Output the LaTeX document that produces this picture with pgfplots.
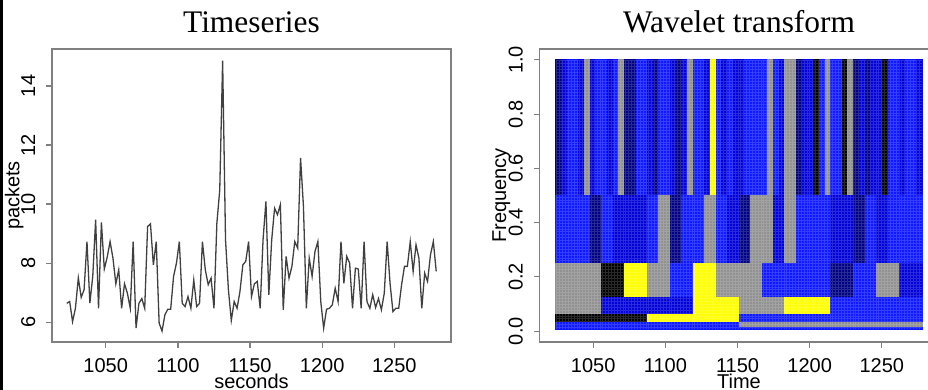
\documentclass[border=0pt]{standalone}
\usepackage{pgfplots}
\pgfplotsset{compat=1.18}
\usepackage{fontspec}
\setmainfont{Liberation Serif}
\newfontfamily\hv{Liberation Sans}
\pgfplotsset{
 rstyle/.style={
  scale only axis, width=199.5pt, height=146.5pt,
  anchor=south west,
  axis line style={draw=black!50, line width=0.6pt},
  tick pos=left, tick align=outside,
  major tick length=3pt,
  tick style={black!50, line width=0.6pt},
  tick label style={font=\hv\fontsize{10}{12}\selectfont, text=black, inner sep=0pt},
  /pgf/number format/assume math mode=true,
  /pgf/number format/1000 sep={},
  xticklabel style={anchor=base},
  xticklabel shift=12.3pt,
  yticklabel style={rotate=90, anchor=base},
  yticklabel shift=5.5pt,
  label style={font=\hv\fontsize{10}{12}\selectfont, inner sep=0pt},
  every axis title shift=0pt,
  title style={font=\fontsize{15.7}{18}\selectfont, at={(axis description cs:0.5,1.058)}, anchor=base, inner sep=0pt},
  xtick={1050,1100,1150,1200,1250},
  xmin=1012.76, xmax=1289.24,
 }
}
\begin{document}
\begin{tikzpicture}
\fill[black] (0,0) rectangle (1.3pt,195pt);
\begin{axis}[rstyle, at={(26pt,24pt)}, ymin=5.33, ymax=15.25, ytick={6,8,10,12,14},
 title={Timeseries}, xlabel={seconds}, ylabel={packets},
 xlabel style={at={(axis description cs:0.5,-0.158)}, anchor=base},
 ylabel style={at={(axis description cs:-0.0815,0.5)}, anchor=base}]
\addplot[black!75, line width=0.65pt] table {
t v
1023 6.64
1025 6.70
1027 6.02
1029 6.47
1031 7.50
1033 6.84
1035 7.10
1037 8.73
1039 6.65
1041 7.55
1043 9.47
1045 6.47
1047 9.38
1049 7.80
1051 8.20
1053 8.73
1055 8.17
1057 7.30
1059 7.77
1061 6.47
1063 7.30
1065 6.98
1067 6.47
1069 8.73
1071 5.80
1073 6.64
1075 6.80
1077 6.47
1079 9.24
1081 9.33
1083 7.94
1085 8.73
1087 5.97
1089 5.70
1091 6.25
1093 6.44
1095 6.44
1097 7.55
1099 8.00
1101 8.73
1103 6.64
1105 6.53
1107 6.87
1109 6.47
1111 7.43
1113 6.53
1115 6.64
1117 8.73
1119 7.77
1121 7.27
1123 7.49
1125 6.47
1127 9.35
1129 10.48
1131 14.86
1133 8.79
1135 7.10
1137 6.06
1139 6.70
1141 6.47
1143 7.04
1145 7.94
1147 8.06
1149 8.73
1151 6.87
1153 7.30
1155 7.38
1157 6.47
1159 8.79
1161 10.09
1163 6.93
1165 8.79
1167 9.86
1169 9.64
1171 9.98
1173 6.42
1175 8.23
1177 7.49
1179 7.89
1181 8.73
1183 8.51
1185 11.56
1187 9.92
1189 6.47
1191 8.17
1193 7.55
1195 8.40
1197 8.73
1199 6.70
1201 5.80
1203 6.44
1205 6.47
1207 6.59
1209 7.15
1211 6.70
1213 8.73
1215 7.32
1217 8.23
1219 8.00
1221 6.47
1223 7.83
1225 7.80
1227 6.47
1229 8.73
1231 6.70
1233 6.47
1235 6.93
1237 6.50
1239 6.80
1241 6.42
1243 6.98
1245 8.73
1247 7.32
1249 6.36
1251 6.47
1253 6.47
1255 7.27
1257 7.89
1259 7.89
1261 8.73
1263 7.72
1265 8.62
1267 8.17
1269 6.47
1271 7.66
1273 7.38
1275 8.28
1277 8.73
1279 7.72
};
\end{axis}
\begin{axis}[rstyle, at={(269.75pt,24pt)}, ymin=-0.04, ymax=1.04, ytick={0,0.2,0.4,0.6,0.8,1},
 yticklabel={\pgfmathprintnumber[fixed,fixed zerofill,precision=1]{\tick}},
 title={Wavelet transform}, xlabel={Time}, ylabel={Frequency},
 xlabel style={at={(axis description cs:0.5,-0.158)}, anchor=base},
 ylabel style={at={(axis description cs:-0.0835,0.5)}, anchor=base},
 colormap={wv}{rgb255=(0,0,0) rgb255=(0,0,130) rgb255=(0,0,215) rgb255=(15,25,255) rgb255=(145,145,145) rgb255=(255,255,0)},
 colormap access=direct, point meta min=0, point meta max=5]
% band 1: 0.5 - 1
\addplot[surf, shader=flat corner, mesh/cols=65, point meta=explicit] coordinates {
(1024,0.5)[1] (1027.97,0.5)[2] (1031.94,0.5)[3] (1035.91,0.5)[3] (1039.88,0.5)[2] (1043.84,0.5)[4] (1047.81,0.5)[2] (1051.78,0.5)[3] (1055.75,0.5)[3] (1059.72,0.5)[2] (1063.69,0.5)[3] (1067.66,0.5)[4] (1071.63,0.5)[1] (1075.59,0.5)[1] (1079.56,0.5)[3] (1083.53,0.5)[3] (1087.5,0.5)[2] (1091.47,0.5)[1] (1095.44,0.5)[3] (1099.41,0.5)[3] (1103.38,0.5)[2] (1107.34,0.5)[1] (1111.31,0.5)[2] (1115.28,0.5)[4] (1119.25,0.5)[3] (1123.22,0.5)[3] (1127.19,0.5)[2] (1131.16,0.5)[5] (1135.13,0.5)[3] (1139.09,0.5)[2] (1143.06,0.5)[3] (1147.03,0.5)[2] (1151,0.5)[2] (1154.97,0.5)[3] (1158.94,0.5)[3] (1162.91,0.5)[3] (1166.88,0.5)[3] (1170.84,0.5)[4] (1174.81,0.5)[3] (1178.78,0.5)[2] (1182.75,0.5)[4] (1186.72,0.5)[4] (1190.69,0.5)[1] (1194.66,0.5)[2] (1198.63,0.5)[2] (1202.59,0.5)[0] (1206.56,0.5)[3] (1210.53,0.5)[4] (1214.5,0.5)[3] (1218.47,0.5)[3] (1222.44,0.5)[0] (1226.41,0.5)[4] (1230.38,0.5)[1] (1234.34,0.5)[2] (1238.31,0.5)[1] (1242.28,0.5)[2] (1246.25,0.5)[2] (1250.22,0.5)[0] (1254.19,0.5)[3] (1258.16,0.5)[3] (1262.13,0.5)[2] (1266.09,0.5)[3] (1270.06,0.5)[3] (1274.03,0.5)[2] (1278,0.5)[2]
(1024,1)[1] (1027.97,1)[2] (1031.94,1)[3] (1035.91,1)[3] (1039.88,1)[2] (1043.84,1)[4] (1047.81,1)[2] (1051.78,1)[3] (1055.75,1)[3] (1059.72,1)[2] (1063.69,1)[3] (1067.66,1)[4] (1071.63,1)[1] (1075.59,1)[1] (1079.56,1)[3] (1083.53,1)[3] (1087.5,1)[2] (1091.47,1)[1] (1095.44,1)[3] (1099.41,1)[3] (1103.38,1)[2] (1107.34,1)[1] (1111.31,1)[2] (1115.28,1)[4] (1119.25,1)[3] (1123.22,1)[3] (1127.19,1)[2] (1131.16,1)[5] (1135.13,1)[3] (1139.09,1)[2] (1143.06,1)[3] (1147.03,1)[2] (1151,1)[2] (1154.97,1)[3] (1158.94,1)[3] (1162.91,1)[3] (1166.88,1)[3] (1170.84,1)[4] (1174.81,1)[3] (1178.78,1)[2] (1182.75,1)[4] (1186.72,1)[4] (1190.69,1)[1] (1194.66,1)[2] (1198.63,1)[2] (1202.59,1)[0] (1206.56,1)[3] (1210.53,1)[4] (1214.5,1)[3] (1218.47,1)[3] (1222.44,1)[0] (1226.41,1)[4] (1230.38,1)[1] (1234.34,1)[2] (1238.31,1)[1] (1242.28,1)[2] (1246.25,1)[2] (1250.22,1)[0] (1254.19,1)[3] (1258.16,1)[3] (1262.13,1)[2] (1266.09,1)[3] (1270.06,1)[3] (1274.03,1)[2] (1278,1)[2]
};
% band 2: 0.25 - 0.5
\addplot[surf, shader=flat corner, mesh/cols=33, point meta=explicit] coordinates {
(1024,0.25)[3] (1031.94,0.25)[3] (1039.88,0.25)[3] (1047.81,0.25)[1] (1055.75,0.25)[3] (1063.69,0.25)[2] (1071.63,0.25)[2] (1079.56,0.25)[2] (1087.5,0.25)[3] (1095.44,0.25)[4] (1103.38,0.25)[1] (1111.31,0.25)[3] (1119.25,0.25)[3] (1127.19,0.25)[4] (1135.13,0.25)[3] (1143.06,0.25)[2] (1151,0.25)[1] (1158.94,0.25)[4] (1166.88,0.25)[4] (1174.81,0.25)[2] (1182.75,0.25)[4] (1190.69,0.25)[3] (1198.63,0.25)[3] (1206.56,0.25)[3] (1214.5,0.25)[2] (1222.44,0.25)[2] (1230.38,0.25)[1] (1238.31,0.25)[3] (1246.25,0.25)[2] (1254.19,0.25)[3] (1262.13,0.25)[3] (1270.06,0.25)[3] (1278,0.25)[3]
(1024,0.5)[3] (1031.94,0.5)[3] (1039.88,0.5)[3] (1047.81,0.5)[1] (1055.75,0.5)[3] (1063.69,0.5)[2] (1071.63,0.5)[2] (1079.56,0.5)[2] (1087.5,0.5)[3] (1095.44,0.5)[4] (1103.38,0.5)[1] (1111.31,0.5)[3] (1119.25,0.5)[3] (1127.19,0.5)[4] (1135.13,0.5)[3] (1143.06,0.5)[2] (1151,0.5)[1] (1158.94,0.5)[4] (1166.88,0.5)[4] (1174.81,0.5)[2] (1182.75,0.5)[4] (1190.69,0.5)[3] (1198.63,0.5)[3] (1206.56,0.5)[3] (1214.5,0.5)[2] (1222.44,0.5)[2] (1230.38,0.5)[1] (1238.31,0.5)[3] (1246.25,0.5)[2] (1254.19,0.5)[3] (1262.13,0.5)[3] (1270.06,0.5)[3] (1278,0.5)[3]
};
% band 3: 0.125 - 0.25
\addplot[surf, shader=flat corner, mesh/cols=17, point meta=explicit] coordinates {
(1024,0.125)[4] (1039.88,0.125)[4] (1055.75,0.125)[0] (1071.63,0.125)[5] (1087.5,0.125)[4] (1103.38,0.125)[3] (1119.25,0.125)[5] (1135.13,0.125)[4] (1151,0.125)[4] (1166.88,0.125)[3] (1182.75,0.125)[3] (1198.63,0.125)[3] (1214.5,0.125)[1] (1230.38,0.125)[3] (1246.25,0.125)[4] (1262.13,0.125)[2] (1278,0.125)[2]
(1024,0.25)[4] (1039.88,0.25)[4] (1055.75,0.25)[0] (1071.63,0.25)[5] (1087.5,0.25)[4] (1103.38,0.25)[3] (1119.25,0.25)[5] (1135.13,0.25)[4] (1151,0.25)[4] (1166.88,0.25)[3] (1182.75,0.25)[3] (1198.63,0.25)[3] (1214.5,0.25)[1] (1230.38,0.25)[3] (1246.25,0.25)[4] (1262.13,0.25)[2] (1278,0.25)[2]
};
% band 4: 0.0625 - 0.125
\addplot[surf, shader=flat corner, mesh/cols=9, point meta=explicit] coordinates {
(1024,0.0625)[4] (1055.75,0.0625)[2] (1087.5,0.0625)[2] (1119.25,0.0625)[5] (1151,0.0625)[4] (1182.75,0.0625)[5] (1214.5,0.0625)[3] (1246.25,0.0625)[3] (1278,0.0625)[3]
(1024,0.125)[4] (1055.75,0.125)[2] (1087.5,0.125)[2] (1119.25,0.125)[5] (1151,0.125)[4] (1182.75,0.125)[5] (1214.5,0.125)[3] (1246.25,0.125)[3] (1278,0.125)[3]
};
% band 5: 0.03125 - 0.0625
\addplot[surf, shader=flat corner, mesh/cols=5, point meta=explicit] coordinates {
(1024,0.03125)[0] (1087.5,0.03125)[5] (1151,0.03125)[3] (1214.5,0.03125)[3] (1278,0.03125)[3]
(1024,0.0625)[0] (1087.5,0.0625)[5] (1151,0.0625)[3] (1214.5,0.0625)[3] (1278,0.0625)[3]
};
% band 6: 0.015625 - 0.03125
\addplot[surf, shader=flat corner, mesh/cols=3, point meta=explicit] coordinates {
(1024,0.015625)[3] (1151,0.015625)[4] (1278,0.015625)[4]
(1024,0.03125)[3] (1151,0.03125)[4] (1278,0.03125)[4]
};
% band 7: 0.0078 - 0.015625
\addplot[surf, shader=flat corner, mesh/cols=2, point meta=explicit] coordinates {
(1024,0.0078)[3] (1278,0.0078)[3]
(1024,0.015625)[3] (1278,0.015625)[3]
};
% faint cell seams of the rendered image
\begin{scope}
\clip (axis cs:1024,0.0078) rectangle (axis cs:1278,1);
\draw[white, opacity=0.16, line width=0.3pt, xstep=1.4375pt, ystep=1.45pt]
  (axis cs:1024,0.0078) grid (axis cs:1278,1);
\end{scope}
\end{axis}
\pgfresetboundingbox
\path[use as bounding box] (0,0) rectangle (464pt,195pt);
\end{tikzpicture}
\end{document}
